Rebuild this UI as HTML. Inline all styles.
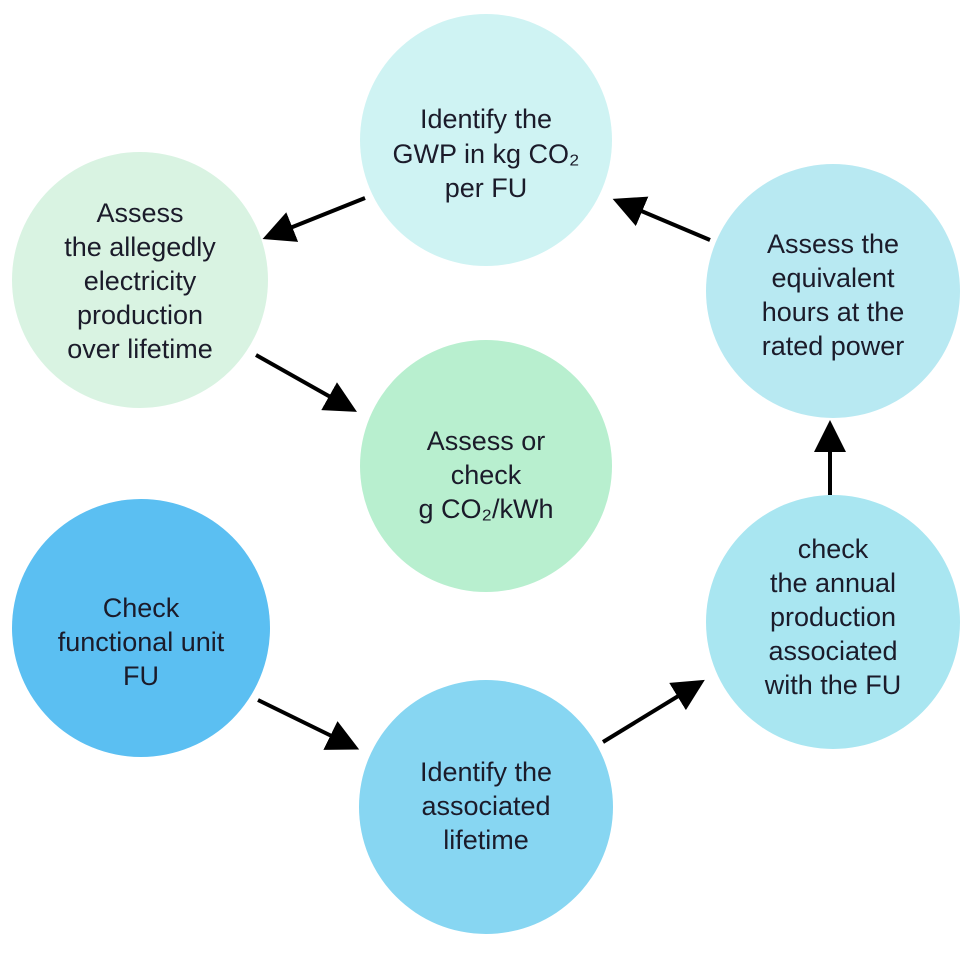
<!DOCTYPE html>
<html><head><meta charset="utf-8"><style>
body{margin:0;background:#fff;width:971px;height:950px;overflow:hidden}
svg text{font-family:"Liberation Sans Narrow","Liberation Sans",sans-serif;font-size:27px;fill:#1b1b2a;text-anchor:middle}
</style></head><body>
<svg width="971" height="950" viewBox="0 0 971 950">
<defs><marker id="a" markerWidth="8" markerHeight="8" refX="6" refY="4" orient="auto" markerUnits="strokeWidth"><path d="M0,0 L8,4 L0,8 z" fill="#000"/></marker></defs>
<circle cx="486" cy="140" r="126" fill="#cff3f3"/>
<circle cx="140" cy="280" r="128" fill="#d9f3e2"/>
<circle cx="486" cy="466" r="126" fill="#b8efcf"/>
<circle cx="833" cy="291" r="127" fill="#b8e9f2"/>
<circle cx="833" cy="622" r="127" fill="#a9e6f1"/>
<circle cx="141" cy="628" r="129" fill="#5bbff2"/>
<circle cx="486" cy="807" r="127" fill="#87d6f2"/>
<g stroke="#000" stroke-width="4" marker-end="url(#a)">
<line x1="365" y1="198" x2="270" y2="236"/>
<line x1="710" y1="240" x2="620" y2="202"/>
<line x1="256" y1="355" x2="350" y2="408"/>
<line x1="830" y1="495" x2="830" y2="428"/>
<line x1="258" y1="700" x2="352" y2="746"/>
<line x1="603" y1="742" x2="698" y2="684"/>
</g>
<text x="486" y="128">Identify the</text>
<text x="486" y="163">GWP in kg CO₂</text>
<text x="486" y="197">per FU</text>
<text x="140" y="222">Assess</text>
<text x="140" y="256">the allegedly</text>
<text x="140" y="290">electricity</text>
<text x="140" y="324">production</text>
<text x="140" y="358">over lifetime</text>
<text x="486" y="450">Assess or</text>
<text x="486" y="484">check</text>
<text x="486" y="518">g CO₂/kWh</text>
<text x="833" y="253">Assess the</text>
<text x="833" y="287">equivalent</text>
<text x="833" y="321">hours at the</text>
<text x="833" y="355">rated power</text>
<text x="833" y="558">check</text>
<text x="833" y="592">the annual</text>
<text x="833" y="626">production</text>
<text x="833" y="660">associated</text>
<text x="833" y="694">with the FU</text>
<text x="141" y="617">Check</text>
<text x="141" y="651">functional unit</text>
<text x="141" y="685">FU</text>
<text x="486" y="781">Identify the</text>
<text x="486" y="815">associated</text>
<text x="486" y="849">lifetime</text>
</svg>
</body></html>
